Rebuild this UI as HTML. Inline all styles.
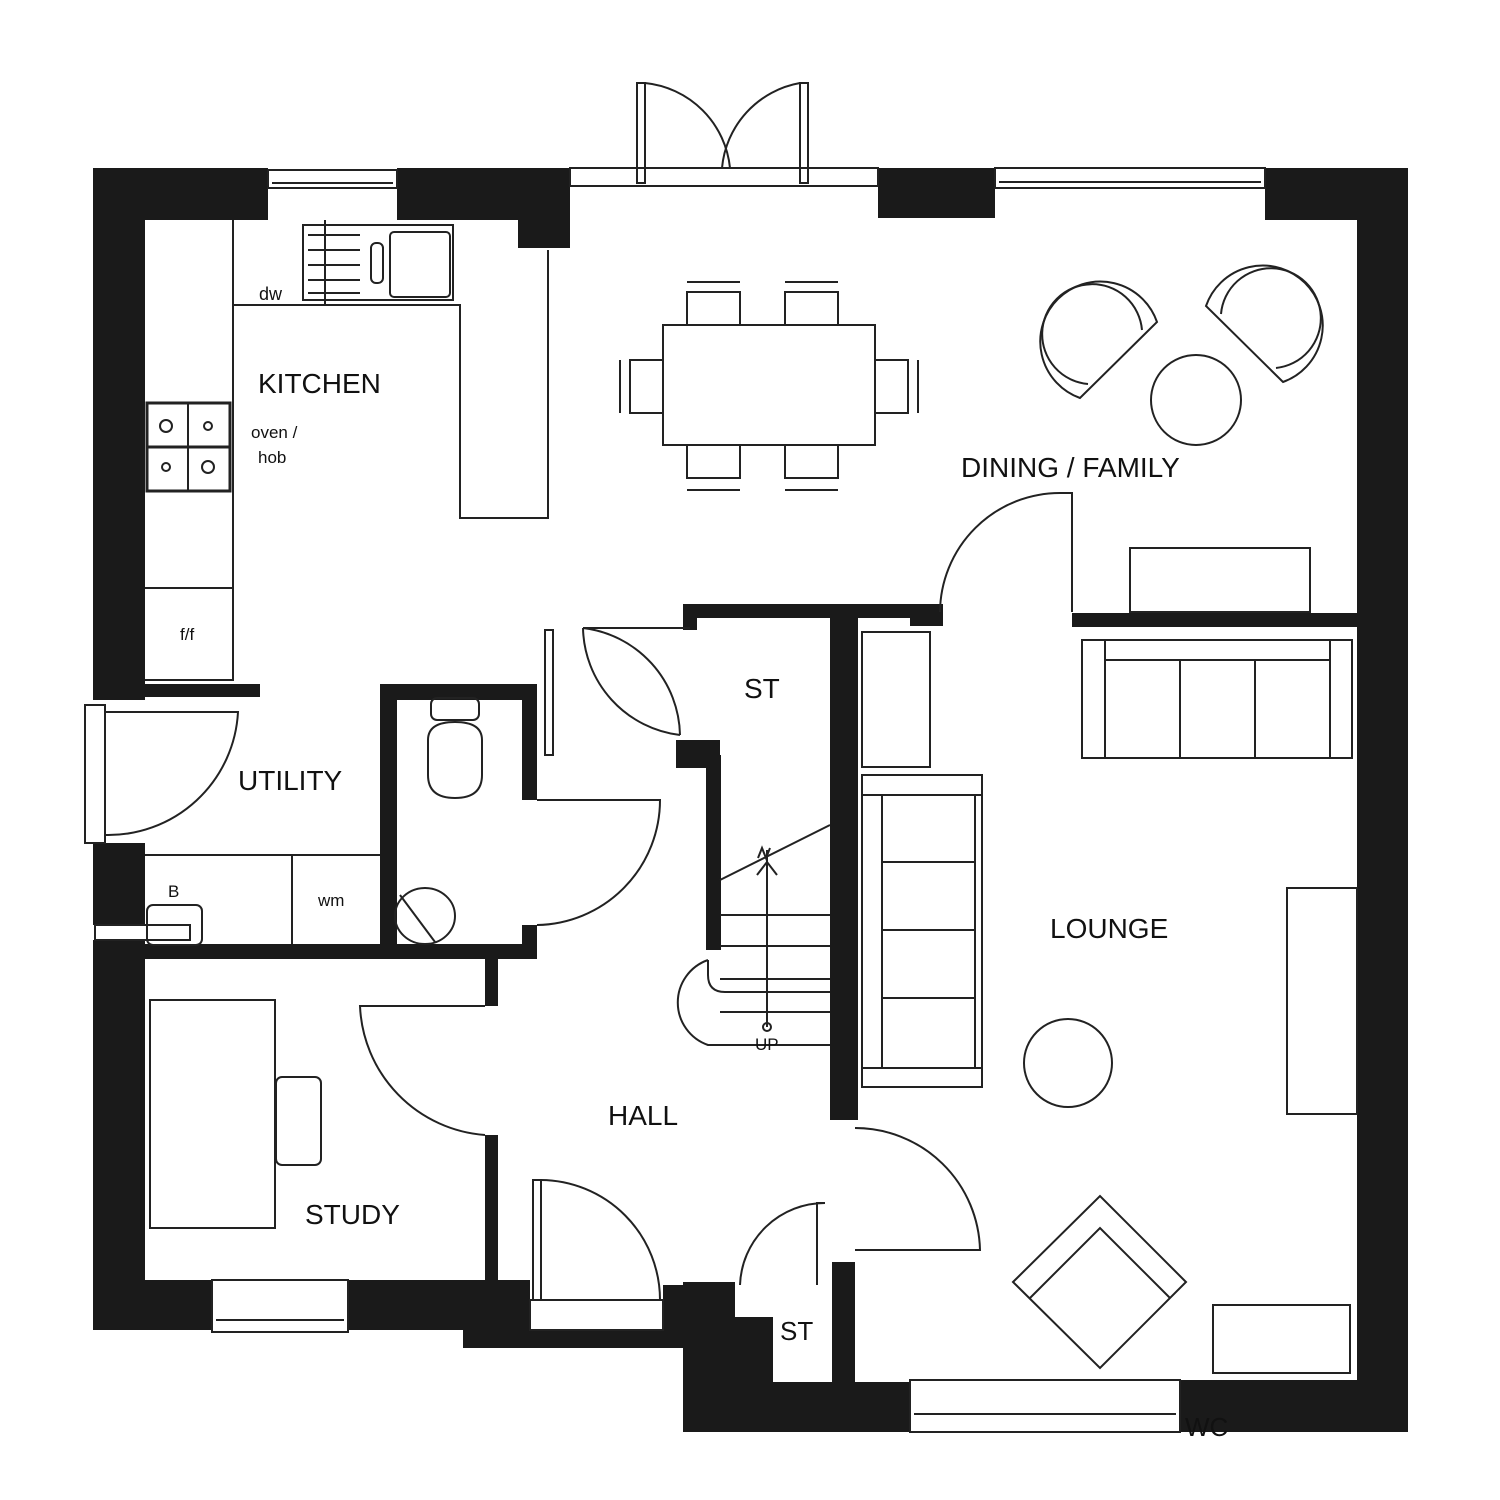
<!DOCTYPE html>
<html><head><meta charset="utf-8"><style>
html,body{margin:0;padding:0;background:#fff;}
svg{display:block}
text{font-family:"Liberation Sans",Arial,sans-serif;fill:#111}
</style></head><body>
<svg width="1500" height="1500" viewBox="0 0 1500 1500" xmlns="http://www.w3.org/2000/svg">
<g fill="#1a1a1a">
<rect x="93" y="168" width="175" height="52"/>
<rect x="397" y="168" width="173" height="52"/>
<rect x="518" y="168" width="52" height="80"/>
<rect x="878" y="168" width="117" height="50"/>
<rect x="1265" y="168" width="143" height="52"/>
<rect x="93" y="168" width="52" height="532"/>
<rect x="93" y="843" width="52" height="82"/>
<rect x="93" y="940" width="52" height="390"/>
<rect x="1357" y="168" width="51" height="1264"/>
<rect x="145" y="684" width="115" height="13"/>
<rect x="145" y="944" width="392" height="15"/>
<rect x="380" y="684" width="157" height="16"/>
<rect x="380" y="684" width="17" height="275"/>
<rect x="522" y="684" width="15" height="116"/>
<rect x="522" y="925" width="15" height="34"/>
<rect x="485" y="958" width="13" height="48"/>
<rect x="485" y="1135" width="13" height="145"/>
<rect x="93" y="1280" width="120" height="50"/>
<rect x="348" y="1280" width="182" height="50"/>
<rect x="463" y="1330" width="220" height="18"/>
<rect x="663" y="1285" width="20" height="63"/>
<rect x="683" y="604" width="227" height="14"/>
<rect x="683" y="604" width="14" height="26"/>
<rect x="676" y="740" width="44" height="28"/>
<rect x="706" y="755" width="15" height="195"/>
<rect x="830" y="618" width="28" height="502"/>
<rect x="910" y="604" width="33" height="22"/>
<rect x="1072" y="613" width="285" height="14"/>
<rect x="683" y="1282" width="52" height="150"/>
<rect x="683" y="1317" width="90" height="115"/>
<rect x="683" y="1382" width="227" height="50"/>
<rect x="832" y="1262" width="23" height="120"/>
<rect x="1180" y="1380" width="228" height="52"/>
</g>
<g fill="none" stroke="#222" stroke-width="2">
<rect x="268" y="170" width="129" height="18"/><line x1="272" y1="183" x2="393" y2="183"/>
<rect x="995" y="168" width="270" height="20"/><line x1="999" y1="182" x2="1261" y2="182"/>
<rect x="570" y="168" width="308" height="18"/>
<rect x="85" y="705" width="20" height="138"/>
<rect x="212" y="1280" width="136" height="52"/><line x1="216" y1="1320" x2="344" y2="1320"/>
<rect x="910" y="1380" width="270" height="52"/><line x1="914" y1="1414" x2="1176" y2="1414"/>
<rect x="530" y="1300" width="133" height="30"/>
<rect x="637" y="83" width="8" height="100"/>
<rect x="800" y="83" width="8" height="100"/>
<path d="M645 83 A95 95 0 0 1 730 168"/>
<path d="M800 83 A95 95 0 0 0 722 168"/>
<path d="M233 220 V680 H145"/>
<path d="M233 305 H460 V518 H548 V250"/>
<line x1="233" y1="588" x2="145" y2="588"/>
<rect x="303" y="225" width="150" height="75"/>
<line x1="325" y1="220" x2="325" y2="305"/>
<rect x="390" y="232" width="60" height="65" rx="4"/>
<rect x="371" y="243" width="12" height="40" rx="5"/>
<line x1="308" y1="235" x2="360" y2="235"/><line x1="308" y1="250" x2="360" y2="250"/><line x1="308" y1="265" x2="360" y2="265"/><line x1="308" y1="280" x2="360" y2="280"/><line x1="308" y1="293" x2="360" y2="293"/>
<rect x="147" y="403" width="83" height="88" stroke-width="3"/>
<line x1="147" y1="447" x2="230" y2="447" stroke-width="3"/>
<line x1="188" y1="403" x2="188" y2="491"/>
<circle cx="166" cy="426" r="6"/><circle cx="208" cy="426" r="4"/><circle cx="166" cy="467" r="4"/><circle cx="208" cy="467" r="6"/>
<path d="M105 712 H238 A130 130 0 0 1 105 835"/>
<path d="M145 855 H380 M292 855 V944"/>
<rect x="147" y="905" width="55" height="40" rx="6"/>
<rect x="95" y="925" width="95" height="15"/>
<rect x="431" y="698" width="48" height="22" rx="6"/>
<path d="M428 740 Q428 722 455 722 Q482 722 482 740 V775 Q482 798 455 798 Q428 798 428 775 Z"/>
<ellipse cx="425" cy="916" rx="30" ry="28"/>
<line x1="400" y1="895" x2="435" y2="942"/>
<path d="M537 800 H660 A125 125 0 0 1 537 925"/>
<rect x="545" y="630" width="8" height="125"/>
<path d="M583 628 A110 110 0 0 0 680 735"/>
<path d="M583 628 A110 110 0 0 1 680 735"/>
<path d="M583 628 H690"/>
<path d="M485 1006 H360 A135 135 0 0 0 485 1135"/>
<rect x="533" y="1180" width="8" height="120"/>
<path d="M541 1180 A120 120 0 0 1 660 1300"/>
<path d="M855 1128 A125 125 0 0 1 980 1250 H855"/>
<path d="M825 1203 H817 V1285 M825 1203 A85 85 0 0 0 740 1285"/>
<path d="M940 612 A120 120 0 0 1 1060 493 H1072 V612"/>
<path d="M720 880 L830 825"/>
<path d="M720 915 H830 M720 946 H830 M720 979 H830 M720 1012 H830"/>
<path d="M708 960 V975 Q708 992 725 992 H830"/>
<path d="M708 960 A45 45 0 0 0 708 1045 H830"/>
<line x1="767" y1="1027" x2="767" y2="850"/>
<path d="M757 875 L767 862 L777 875"/>
<path d="M758 858 L762 848 L766 858 L770 848"/>
<circle cx="767" cy="1027" r="4"/>
<rect x="663" y="325" width="212" height="120"/>
<rect x="687" y="292" width="53" height="33"/><line x1="687" y1="282" x2="740" y2="282"/>
<rect x="785" y="292" width="53" height="33"/><line x1="785" y1="282" x2="838" y2="282"/>
<rect x="687" y="445" width="53" height="33"/><line x1="687" y1="490" x2="740" y2="490"/>
<rect x="785" y="445" width="53" height="33"/><line x1="785" y1="490" x2="838" y2="490"/>
<rect x="630" y="360" width="33" height="53"/><line x1="620" y1="360" x2="620" y2="413"/>
<rect x="875" y="360" width="33" height="53"/><line x1="918" y1="360" x2="918" y2="413"/>
<path d="M1157 322 A60 60 0 1 0 1080 398 Z"/>
<path d="M1142 330 A50 50 0 1 0 1088 384"/>
<path d="M1206 306 A60 60 0 1 1 1283 382 Z"/>
<path d="M1221 314 A50 50 0 1 1 1276 368"/>
<circle cx="1196" cy="400" r="45"/>
<rect x="1130" y="548" width="180" height="64"/>
<rect x="1082" y="640" width="270" height="118"/><line x1="1105" y1="660" x2="1330" y2="660"/>
<line x1="1105" y1="640" x2="1105" y2="758"/><line x1="1330" y1="640" x2="1330" y2="758"/>
<line x1="1180" y1="660" x2="1180" y2="758"/><line x1="1255" y1="660" x2="1255" y2="758"/>
<rect x="862" y="632" width="68" height="135"/>
<rect x="862" y="775" width="120" height="312"/><line x1="862" y1="795" x2="982" y2="795"/><line x1="862" y1="1068" x2="982" y2="1068"/>
<line x1="882" y1="795" x2="882" y2="1068"/><line x1="882" y1="862" x2="975" y2="862"/><line x1="882" y1="930" x2="975" y2="930"/><line x1="882" y1="998" x2="975" y2="998"/>
<line x1="975" y1="795" x2="975" y2="1068"/>
<circle cx="1068" cy="1063" r="44"/>
<rect x="1287" y="888" width="70" height="226"/>
<rect x="1213" y="1305" width="137" height="68"/>
<path d="M1013 1282 L1100 1196 L1186 1282 L1100 1368 Z"/>
<path d="M1030 1298 L1100 1228 L1170 1298"/>
<rect x="150" y="1000" width="125" height="228"/>
<rect x="276" y="1077" width="45" height="88" rx="6"/>
</g>
<g>
<text x="258" y="393" font-size="28">KITCHEN</text>
<text x="251" y="438" font-size="17">oven /</text>
<text x="258" y="463" font-size="17">hob</text>
<text x="259" y="300" font-size="18">dw</text>
<text x="180" y="640" font-size="17">f/f</text>
<text x="238" y="790" font-size="28">UTILITY</text>
<text x="168" y="897" font-size="17">B</text>
<text x="318" y="906" font-size="17">wm</text>
<text x="744" y="698" font-size="28">ST</text>
<text x="961" y="477" font-size="28">DINING / FAMILY</text>
<text x="1050" y="938" font-size="28">LOUNGE</text>
<text x="608" y="1125" font-size="28">HALL</text>
<text x="305" y="1224" font-size="28">STUDY</text>
<text x="780" y="1340" font-size="26">ST</text>
<text x="755" y="1050" font-size="17">UP</text>
<text x="1185" y="1436" font-size="26">WC</text>
</g>
</svg>
</body></html>
